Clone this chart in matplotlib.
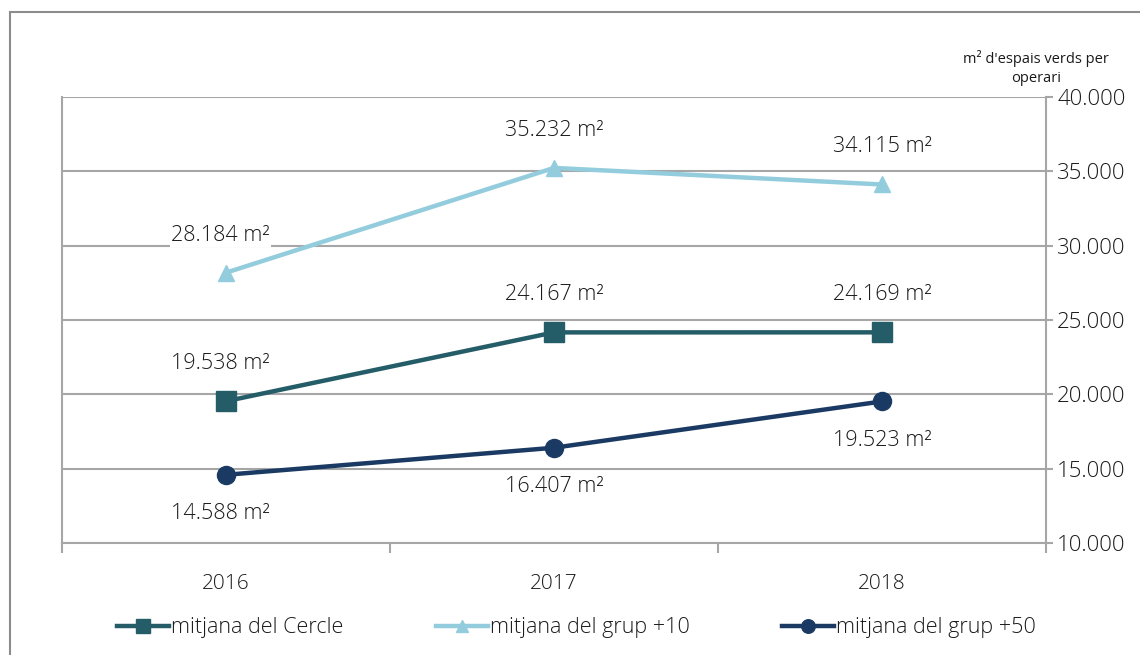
import numpy as np
import matplotlib
matplotlib.use("Agg")
from matplotlib import pyplot as plt
from matplotlib.patches import Rectangle

plt.rcParams['font.family'] = ['Open Sans', 'DejaVu Sans']
plt.rcParams['font.weight'] = 'light'

# Dades
anys = ['2016', '2017', '2018']
series_noms = ['mitjana del Cercle', 'mitjana del grup +10', 'mitjana del grup +50']
cercle = [19538, 24167, 24169]
grup10 = [28184, 35232, 34115]
grup50 = [14588, 16407, 19523]
etiquetes_cercle = ['19.538 m²', '24.167 m²', '24.169 m²']
etiquetes_grup10 = ['28.184 m²', '35.232 m²', '34.115 m²']
etiquetes_grup50 = ['14.588 m²', '16.407 m²', '19.523 m²']
yticks = [10000, 15000, 20000, 25000, 30000, 35000, 40000]
ytick_labels = ['10.000', '15.000', '20.000', '25.000', '30.000', '35.000', '40.000']

# Estil
colors = ['#245C68', '#93CDDD', '#1B3A63']
markers = ['s', '^', 'o']
msizes = [14, 12, 13]
offsets = [27, 27, -28]  # punts (positiu = a sobre)
grid_color = '#A6A6A6'
txt_color = '#1A1A1A'

fig = plt.figure(figsize=(11.4, 6.55), dpi=100)
ax = fig.add_axes([62 / 1140, 1 - 543 / 655, (1046 - 62) / 1140, (543 - 97) / 655])

# marc exterior
fig.patches.append(Rectangle((10 / 1140, -0.05), 1.2, 1 - 12 / 655 + 0.05,
                             transform=fig.transFigure, fill=False,
                             edgecolor='#8C8C8C', linewidth=1.5, zorder=0))

x = np.arange(len(anys))
dades = [cercle, grup10, grup50]
etiquetes = [etiquetes_cercle, etiquetes_grup10, etiquetes_grup50]

for i, (vals, labs) in enumerate(zip(dades, etiquetes)):
    ax.plot(x, vals, color=colors[i], linewidth=3.2, marker=markers[i],
            markersize=msizes[i], label=series_noms[i], zorder=4)
    for xi, v, lab in zip(x, vals, labs):
        dx = -4 if xi == 0 else 0
        ax.annotate(lab, xy=(xi, v), xytext=(dx, offsets[i]),
                    textcoords='offset points', ha='center', va='center',
                    fontsize=15.5, color=txt_color, zorder=3,
                    bbox=dict(facecolor='white', edgecolor='none', pad=1.0))

ax.set_xlim(-0.5, 2.5)
ax.set_ylim(10000, 40000)

ax.set_yticks(yticks)
ax.set_yticklabels(ytick_labels)
ax.yaxis.tick_right()
ax.tick_params(axis='y', direction='out', length=5, color=grid_color,
               labelsize=16, labelcolor=txt_color, width=1.5, pad=3)

ax.set_xticks(x)
ax.set_xticklabels(anys)
ax.set_xticks([-0.5, 0.5, 1.5, 2.5], minor=True)
ax.tick_params(axis='x', which='major', length=0, labelsize=15,
               labelcolor=txt_color, pad=22)
ax.tick_params(axis='x', which='minor', direction='out', length=7,
               color=grid_color, width=1.5)

ax.grid(axis='y', color=grid_color, linewidth=1.5, zorder=1)
ax.set_axisbelow(True)
for side in ['left', 'right', 'bottom']:
    ax.spines[side].set_color(grid_color)
    ax.spines[side].set_linewidth(1.5)
ax.spines['top'].set_visible(False)

fig.text(1036 / 1140, 1 - 68 / 655, "m² d'espais verds per\noperari",
         ha='center', va='center', fontsize=10.5, fontweight='normal',
         color=txt_color, linespacing=1.3)

ax.legend(loc='center', bbox_to_anchor=(0.523, (543 - 628) / (543 - 97)),
          ncol=3, frameon=False, fontsize=15.5, handlelength=2.4,
          columnspacing=4.3, handletextpad=0.1, markerscale=0.75,
          labelcolor=txt_color)

fig.savefig('out.png', dpi=100)
